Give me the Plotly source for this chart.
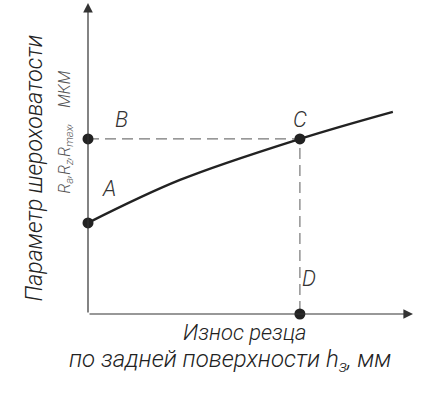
import plotly.graph_objects as go

# curve: tool wear (relative) vs roughness parameter (relative)
wear = [0.0, 0.283, 0.652, 0.938]
rough = [0.293, 0.431, 0.563, 0.650]

# key points A, B, C, D
pt_names = ['A', 'B', 'C', 'D']
pt_x = [0.0, 0.0, 0.652, 0.652]
pt_y = [0.293, 0.563, 0.563, 0.0]

FONT = "Roboto, Liberation Sans Narrow, sans-serif"
L, R, T, B = 88, 32, 3, 86
W, H = 445, 400


def px2paper(px, py):
    # pixel in the page -> paper coords of the plot area
    return (px - L) / (W - L - R), (H - B - py) / (H - T - B)


fig = go.Figure()

# dashed guides B-C and C-D
fig.add_trace(go.Scatter(x=[pt_x[1], pt_x[2], pt_x[3]], y=[pt_y[1], pt_y[2], pt_y[3]],
                         mode='lines', line=dict(color='#777', width=1.2, dash='11px,6px'),
                         hoverinfo='skip'))
fig.add_trace(go.Scatter(x=wear, y=rough, mode='lines',
                         line=dict(color='#222', width=2.4, shape='spline', smoothing=1),
                         hoverinfo='skip'))
fig.add_trace(go.Scatter(x=pt_x, y=pt_y, mode='markers',
                         marker=dict(color='#222', size=11), cliponaxis=False,
                         hoverinfo='skip'))

# axes with arrows
fig.add_annotation(x=1.0, y=0, ax=0, ay=0, xref='x', yref='y', axref='x', ayref='y',
                   showarrow=True, arrowhead=2, arrowsize=1.6, arrowwidth=1.2,
                   arrowcolor='#333', text='')
fig.add_annotation(x=0, y=1.0, ax=0, ay=0, xref='x', yref='y', axref='x', ayref='y',
                   showarrow=True, arrowhead=2, arrowsize=1.6, arrowwidth=1.2,
                   arrowcolor='#333', text='')

# point labels
lbl_pos = {'A': (100, 188), 'B': (113, 105), 'C': (300, 105), 'D': (318, 293)}
for n in pt_names:
    x, y = px2paper(*lbl_pos[n])
    fig.add_annotation(x=x, y=y, xref='paper', yref='paper',
                       text='<i>%s</i>' % n, showarrow=False,
                       font=dict(family=FONT, size=22, color='#333', weight=300))

# axis titles
texts = [
    ((18, 168), '<i>Параметр шероховатости</i>', -90, 23, '#222'),
    ((52, 132), '<i>R<sub>a</sub>,R<sub>z</sub>,R<sub>max</sub>,    МКМ</i>', -90, 16, '#555'),
    ((245, 347), '<i>Износ резца</i>', 0, 22, '#222'),
    ((230, 378), '<i>по задней поверхности h<sub>з</sub>, мм</i>', 0, 24, '#222'),
]
for pos, txt, ang, size, col in texts:
    x, y = px2paper(*pos)
    fig.add_annotation(x=x, y=y, xref='paper', yref='paper', text=txt,
                       textangle=ang, showarrow=False,
                       font=dict(family=FONT, size=size, color=col, weight=300))

fig.update_layout(
    width=W, height=H,
    margin=dict(l=L, r=R, t=T, b=B),
    paper_bgcolor='white', plot_bgcolor='white',
    showlegend=False,
    xaxis=dict(range=[0, 1], visible=False, fixedrange=True),
    yaxis=dict(range=[0, 1], visible=False, fixedrange=True),
)

fig.write_html("out.html", config={'displayModeBar': False},
               post_script="document.body.style.margin='0';")
